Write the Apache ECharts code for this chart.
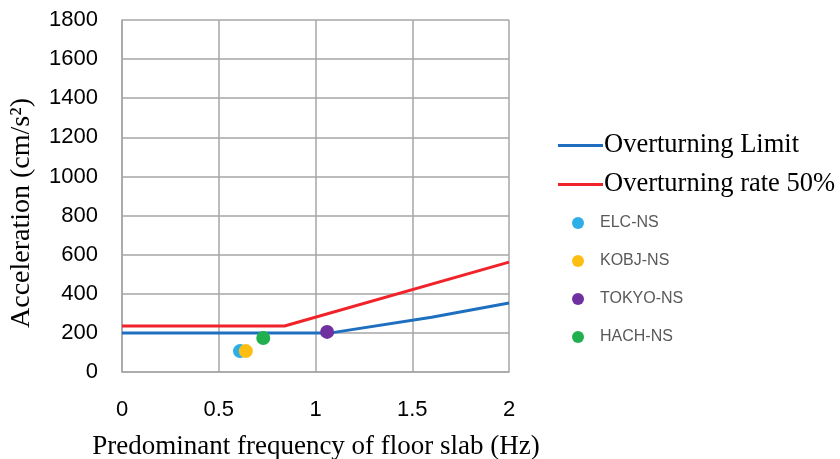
<!DOCTYPE html>
<html><head><meta charset="utf-8">
<script src="https://cdn.jsdelivr.net/npm/echarts@6/dist/echarts.min.js"></script>
<style>html,body{margin:0;padding:0;background:#fff}#c{width:840px;height:459px}</style>
</head><body><div id="c"></div>
<script>
const xTicks = [0, 0.5, 1, 1.5, 2];
const yTicks = [0, 200, 400, 600, 800, 1000, 1200, 1400, 1600, 1800];
const limitLine = [[0, 200], [1.08, 200], [1.6, 280], [2, 353]];
const rate50Line = [[0, 235], [0.84, 235], [2, 562]];
const elc = [[0.61, 107]];
const kobj = [[0.64, 107]];
const tokyo = [[1.06, 205]];
const hach = [[0.73, 174]];

const chart = echarts.init(document.getElementById('c'), null, {renderer: 'canvas'});
const grid = {left: 122, right: 331, top: 20, bottom: 87};
const gridLine = {show: true, lineStyle: {color: '#a6a6a6', width: 1.5}};
chart.setOption({
  animation: false,
  grid: grid,
  xAxis: {
    type: 'value', min: 0, max: 2, interval: 0.5,
    axisLine: {show: true, lineStyle: {color: '#a6a6a6', width: 1.5}},
    axisTick: {show: false},
    splitLine: gridLine,
    axisLabel: {margin: 27, fontFamily: 'Liberation Sans', fontSize: 22, color: '#000', formatter: v => String(v)}
  },
  yAxis: {
    type: 'value', min: 0, max: 1800, interval: 200,
    axisLine: {show: true, lineStyle: {color: '#a6a6a6', width: 1.5}},
    axisTick: {show: false},
    splitLine: gridLine,
    axisLabel: {margin: 24, fontFamily: 'Liberation Sans', fontSize: 22, color: '#000', formatter: v => String(v)}
  },
  legend: [
    {
      data: ['Overturning Limit', 'Overturning rate 50%'],
      orient: 'vertical', left: 553, top: 127, itemGap: 12,
      icon: 'rect', itemWidth: 45, itemHeight: 3,
      textStyle: {fontFamily: 'Liberation Serif', fontSize: 26.5, color: '#000', padding: [0, 0, 0, -4]}
    },
    {
      data: ['ELC-NS', 'KOBJ-NS', 'TOKYO-NS', 'HACH-NS'],
      orient: 'vertical', left: 567, top: 208, itemGap: 18,
      icon: 'circle', itemWidth: 12, itemHeight: 12,
      textStyle: {fontFamily: 'Liberation Sans', fontSize: 16, color: '#595959', padding: [0, 0, 0, 11], lineHeight: 20}
    }
  ],
  graphic: [
    {type: 'text', x: 316, y: 447, style: {text: 'Predominant frequency of floor slab (Hz)', font: '27px "Liberation Serif"', fill: '#000', textAlign: 'center', textVerticalAlign: 'middle'}},
    {type: 'text', x: 22, y: 213, rotation: Math.PI / 2, style: {text: 'Acceleration (cm/s²)', font: '28px "Liberation Serif"', fill: '#000', textAlign: 'center', textVerticalAlign: 'middle'}}
  ],
  series: [
    {name: 'Overturning Limit', type: 'line', data: limitLine, showSymbol: false, lineStyle: {color: '#1f6fc1', width: 3}, itemStyle: {color: '#1f6fc1'}, z: 3},
    {name: 'Overturning rate 50%', type: 'line', data: rate50Line, showSymbol: false, lineStyle: {color: '#f0222a', width: 3}, itemStyle: {color: '#f0222a'}, z: 3},
    {name: 'ELC-NS', type: 'scatter', data: elc, symbolSize: 14, itemStyle: {color: '#2eaee6', opacity: 1}, z: 4},
    {name: 'KOBJ-NS', type: 'scatter', data: kobj, symbolSize: 14, itemStyle: {color: '#fdbe14', opacity: 1}, z: 5},
    {name: 'TOKYO-NS', type: 'scatter', data: tokyo, symbolSize: 14, itemStyle: {color: '#7031a0', opacity: 1}, z: 5},
    {name: 'HACH-NS', type: 'scatter', data: hach, symbolSize: 14, itemStyle: {color: '#22b04f', opacity: 1}, z: 5}
  ]
});
</script></body></html>
